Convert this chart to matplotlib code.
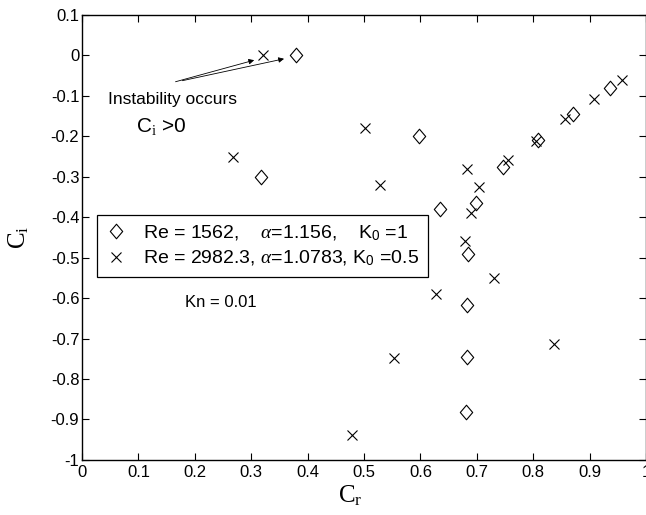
import numpy as np
import matplotlib.pyplot as plt
from matplotlib.path import Path
from matplotlib.ticker import FuncFormatter

plt.rcParams['font.family'] = ['Liberation Sans', 'DejaVu Sans']
plt.rcParams['axes.unicode_minus'] = False
plt.rcParams['mathtext.fontset'] = 'custom'
plt.rcParams['mathtext.rm'] = 'Liberation Serif'
plt.rcParams['mathtext.sf'] = 'Liberation Sans'
plt.rcParams['mathtext.it'] = 'Liberation Serif:italic'

# --- data ---
# Re = 1562, alpha = 1.156, K0 = 1  (diamonds)
cr_diamond = [0.379, 0.317, 0.598, 0.634, 0.698, 0.746, 0.808, 0.870, 0.936,
              0.684, 0.683, 0.682, 0.681]
ci_diamond = [0.000, -0.300, -0.200, -0.380, -0.364, -0.276, -0.208, -0.146, -0.080,
              -0.492, -0.616, -0.746, -0.881]

# Re = 2982.3, alpha = 1.0783, K0 = 0.5  (crosses)
cr_cross = [0.320, 0.267, 0.502, 0.529, 0.683, 0.704, 0.690, 0.756, 0.805,
            0.857, 0.907, 0.957, 0.679, 0.730, 0.627, 0.837, 0.554, 0.479]
ci_cross = [0.000, -0.250, -0.179, -0.320, -0.280, -0.326, -0.389, -0.259, -0.212,
            -0.158, -0.109, -0.061, -0.459, -0.551, -0.590, -0.713, -0.747, -0.939]

label_diamond = r'Re = 1562,    $\alpha$=1.156,    K$_{\mathsf{0}}$ =1'
label_cross = r'Re = 2982.3, $\alpha$=1.0783, K$_{\mathsf{0}}$ =0.5'

xticks = np.arange(0, 1.01, 0.1)
yticks = np.arange(-1.0, 0.11, 0.1)

# tall diamond marker shape
diamond = Path([(0, 1), (0.85, 0), (0, -1), (-0.85, 0), (0, 1)],
               [Path.MOVETO, Path.LINETO, Path.LINETO, Path.LINETO, Path.CLOSEPOLY])

fig = plt.figure(figsize=(6.46, 5.15), dpi=100)
ax = fig.add_axes([0.127, 0.107, 0.873, 0.864])

ax.plot(cr_diamond, ci_diamond, linestyle='none', marker=diamond, markersize=10.5,
        markerfacecolor='none', markeredgecolor='black', markeredgewidth=0.8,
        label=label_diamond)
ax.plot(cr_cross, ci_cross, linestyle='none', marker='x', markersize=6.5,
        color='black', markeredgewidth=0.8, label=label_cross)

ax.set_xlim(0, 1)
ax.set_ylim(-1, 0.1)
ax.set_xticks(xticks)
ax.set_yticks(yticks)
fmt = FuncFormatter(lambda v, p: ('%g' % (round(v, 2) + 0.0)))
ax.xaxis.set_major_formatter(fmt)
ax.yaxis.set_major_formatter(fmt)
ax.tick_params(direction='in', top=True, right=True, length=5, width=0.8,
               labelsize=12, pad=2)
ax.tick_params(axis='x', pad=4)
for s in ax.spines.values():
    s.set_linewidth(1.0)

ax.set_xlabel(r'$\mathrm{C}_{\mathrm{r}}$', fontsize=18, labelpad=2, x=0.475)
ax.set_ylabel(r'$\mathrm{C}_{\mathrm{i}}$', fontsize=18, labelpad=14, y=0.5)

leg = ax.legend(loc='upper left', bbox_to_anchor=(0.027, 0.551), borderaxespad=0,
                fontsize=14, fancybox=False, edgecolor='black', framealpha=1,
                handlelength=1.0, handletextpad=0.9, borderpad=0.45,
                labelspacing=0.3)
leg.get_frame().set_linewidth(0.9)

# annotation for the unstable modes
ax.annotate('', xy=(0.310, -0.010), xytext=(0.161, -0.067),
            arrowprops=dict(arrowstyle='-|>', color='black', lw=0.6,
                            mutation_scale=8))
ax.annotate('', xy=(0.363, -0.007), xytext=(0.173, -0.064),
            arrowprops=dict(arrowstyle='-|>', color='black', lw=0.6,
                            mutation_scale=8))
ax.text(0.160, -0.109, 'Instability occurs', fontsize=12.5, ha='center', va='center')
ax.text(0.140, -0.176, r'C$_{\mathrm{i}}$ >0', fontsize=15, ha='center', va='center')
ax.text(0.246, -0.612, 'Kn = 0.01', fontsize=12, ha='center', va='center')

fig.savefig('out.png', dpi=100)
